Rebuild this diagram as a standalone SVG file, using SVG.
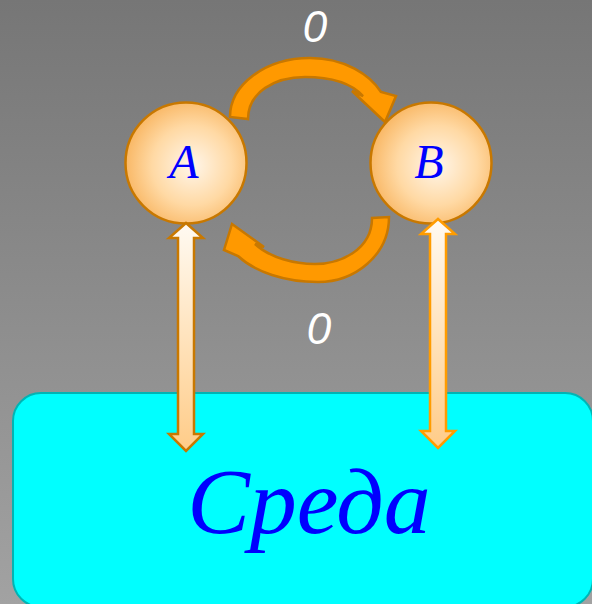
<svg xmlns="http://www.w3.org/2000/svg" width="592" height="604" viewBox="0 0 592 604">
  <defs>
    <linearGradient id="bg" x1="0" y1="0" x2="0" y2="1">
      <stop offset="0" stop-color="#767676"/>
      <stop offset="1" stop-color="#a2a2a2"/>
    </linearGradient>
    <radialGradient id="ball" cx="0.55" cy="0.52" r="0.55">
      <stop offset="0" stop-color="#fff6ea"/>
      <stop offset="0.6" stop-color="#ffd9a4"/>
      <stop offset="1" stop-color="#f9b866"/>
    </radialGradient>
    <linearGradient id="shaft" x1="0" y1="0" x2="0" y2="1">
      <stop offset="0" stop-color="#fffaf2"/>
      <stop offset="1" stop-color="#ffcc88"/>
    </linearGradient>
    <style>
      .node circle { fill: url(#ball); stroke: #c87800; stroke-width: 2.5; }
      .lbl { font-family: "Liberation Serif", "Times New Roman", serif; font-style: italic; fill: #0000ff; text-anchor: middle; }
      .zero { font-family: "Liberation Sans", Arial, sans-serif; font-style: italic; font-size: 44px; fill: #ffffff; text-anchor: middle; }
      .curve { fill: #ff9900; stroke: #c87800; stroke-width: 2.5; stroke-linejoin: miter; }
      .dbl { fill: url(#shaft); stroke-width: 2.5; stroke-linejoin: miter; }
    </style>
  </defs>
  <rect x="0" y="0" width="592" height="604" fill="url(#bg)"/>

  <g id="env">
    <rect x="13" y="393" width="580" height="214" rx="28" ry="28" fill="#00ffff" stroke="#00b4b4" stroke-width="2"/>
    <text class="lbl" x="309" y="533" font-size="94">Среда</text>
  </g>

  <g id="nodeA" class="node">
    <circle cx="186" cy="163" r="60.5"/>
    <text class="lbl" x="184" y="178" font-size="48">A</text>
  </g>
  <g id="nodeB" class="node">
    <circle cx="431" cy="163" r="60.5"/>
    <text class="lbl" x="429" y="178" font-size="48">B</text>
  </g>

  <g id="connectors">
    <path class="curve" d="M230,117 C230,85 265,58 310,58 C345,58 370,75 381,92 L396,96 L385,122 L352,91 L363,96 C352,84 333,77 305,77 C275,77 248,92 248,119 Z"/>
    <path class="curve" d="M389,217 C389,255 355,282 318,282 C285,282 255,272 238,256 L224,250 L232,224 L264,247 L255,244 C270,258 295,264 315,264 C340,264 372,250 372,218 Z"/>
    <path class="dbl" stroke="#c87800" d="M186,223 L203,238 L194,238 L194,434 L203,434 L186,451 L169,434 L178,434 L178,238 L169,238 Z"/>
    <path class="dbl" stroke="#ff9c00" d="M438,219 L455,234 L446,234 L446,431 L455,431 L438,448 L421,431 L430,431 L430,234 L421,234 Z"/>
  </g>

  <text class="zero" x="315" y="42">0</text>
  <text class="zero" x="319" y="344">0</text>
</svg>
